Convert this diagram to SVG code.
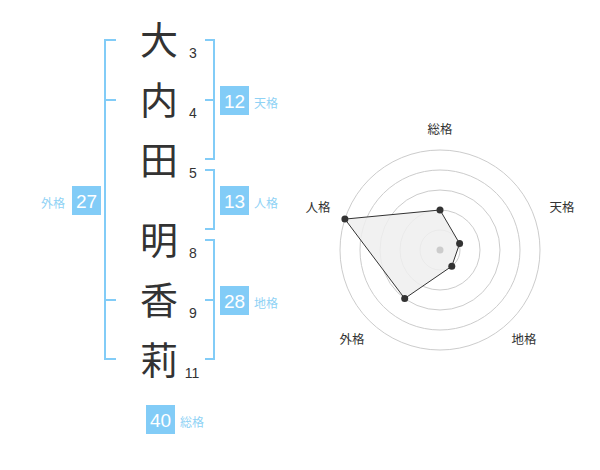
<svg xmlns="http://www.w3.org/2000/svg" width="600" height="470" viewBox="0 0 600 470">
<style>
.kanji{font-family:"Noto Sans CJK JP","Noto Sans CJK SC",sans-serif;font-size:38px;fill:#333;text-anchor:middle}
.num{font-family:"Liberation Sans",Arial,sans-serif;font-size:14px;fill:#333;text-anchor:middle}
.br{fill:none;stroke:#82ccf7;stroke-width:2}
.box{fill:#82ccf7}
.bnum{font-family:"Liberation Sans",Arial,sans-serif;font-size:19px;fill:#fff;text-anchor:middle}
.lab{font-family:"Noto Sans CJK JP","Noto Sans CJK SC",sans-serif;font-size:12px;fill:#8fd2f5}
.rl{font-family:"Noto Sans CJK JP","Noto Sans CJK SC",sans-serif;font-size:12.5px;fill:#333;text-anchor:middle}
.ring{fill:none;stroke:#ccc;stroke-width:1}
.pt{fill:#333}
</style>
<rect width="600" height="470" fill="#fff"/>
<g id="name">
<text class="kanji" x="159" y="54">大</text>
<text class="kanji" x="159" y="114">内</text>
<text class="kanji" x="159" y="174">田</text>
<text class="kanji" x="159" y="254">明</text>
<text class="kanji" x="159" y="314">香</text>
<text class="kanji" x="159" y="374">莉</text>
<text class="num" x="193" y="58">3</text>
<text class="num" x="193" y="118">4</text>
<text class="num" x="193" y="178">5</text>
<text class="num" x="193" y="258">8</text>
<text class="num" x="193" y="318">9</text>
<text class="num" x="192" y="378">11</text>
</g>
<g id="connectors">
<path class="br" d="M116,40 H105 V359 H116 M105,100 H116 M105,300 H116"/>
<path class="br" d="M205,40 H214 V159 H205 M205,100 H214"/>
<path class="br" d="M205,170 H214 V229 H205"/>
<path class="br" d="M205,240 H214 V359 H205 M205,300 H214"/>
</g>
<g id="tenkaku">
<rect class="box" x="220" y="86" width="29" height="29"/>
<text class="bnum" x="234.5" y="107.5">12</text>
<text class="lab" x="254" y="108">天格</text>
</g>
<g id="jinkaku">
<rect class="box" x="220" y="186" width="29" height="29"/>
<text class="bnum" x="234.5" y="207.5">13</text>
<text class="lab" x="254" y="208">人格</text>
</g>
<g id="chikaku">
<rect class="box" x="220" y="286" width="29" height="29"/>
<text class="bnum" x="234.5" y="307.5">28</text>
<text class="lab" x="254" y="308">地格</text>
</g>
<g id="gaikaku">
<rect class="box" x="72" y="186" width="29" height="29"/>
<text class="bnum" x="86.5" y="207.5">27</text>
<text class="lab" x="41" y="208">外格</text>
</g>
<g id="soukaku">
<rect class="box" x="146" y="405" width="29" height="29"/>
<text class="bnum" x="160.5" y="426.5">40</text>
<text class="lab" x="180" y="427">総格</text>
</g>
<g id="radar">
<circle class="ring" cx="440" cy="250" r="20"/>
<circle class="ring" cx="440" cy="250" r="40"/>
<circle class="ring" cx="440" cy="250" r="60"/>
<circle class="ring" cx="440" cy="250" r="80"/>
<circle class="ring" cx="440" cy="250" r="100"/>
<polygon points="440,210 459.6,243.6 451.8,266.2 404.7,298.5 344.9,219.1" fill="#eee" fill-opacity="0.85" stroke="#333" stroke-width="1"/>
<circle cx="440" cy="250" r="3.5" fill="#ccc"/>
<circle class="pt" cx="440" cy="210" r="3.5"/>
<circle class="pt" cx="459.6" cy="243.6" r="3.5"/>
<circle class="pt" cx="451.8" cy="266.2" r="3.5"/>
<circle class="pt" cx="404.7" cy="298.5" r="3.5"/>
<circle class="pt" cx="344.9" cy="219.1" r="3.5"/>
<text class="rl" x="440" y="134">総格</text>
<text class="rl" x="562" y="212">天格</text>
<text class="rl" x="524" y="344">地格</text>
<text class="rl" x="352" y="344">外格</text>
<text class="rl" x="318" y="212">人格</text>
</g>
</svg>
